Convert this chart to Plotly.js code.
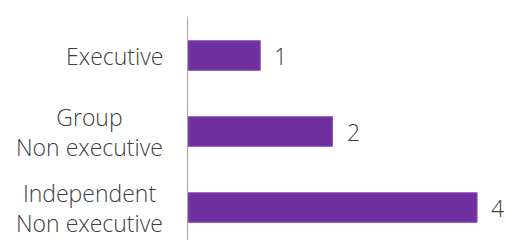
<!DOCTYPE html>
<html>
<head>
<meta charset="utf-8">
<script src="https://cdn.plot.ly/plotly-3.0.1.min.js"></script>
<style>html,body{margin:0;padding:0;background:#fff;}#chart{width:506px;height:240px;}</style>
</head>
<body>
<div id="chart"></div>
<script>
// Data (bottom to top, Plotly draws first category at the bottom)
const categories = ["Independent<br>Non executive", "Group<br>Non executive", "Executive"];
const values = [4, 2, 1];
const valueLabels = ["4", "2", "1"];

const FONT = "'Open Sans', Lato, sans-serif";
const TEXT = "#404040";
const SIZE = 23;

const trace = {
  type: "bar",
  orientation: "h",
  x: values,
  y: categories,
  marker: { color: "#7030A0", line: { color: "#8a55bb", width: 1 } },
  hoverinfo: "none"
};

// value labels to the right of each bar
const valueAnn = categories.map((c, i) => ({
  x: values[i], y: c, xref: "x", yref: "y",
  text: valueLabels[i], showarrow: false,
  xanchor: "left", xshift: 12,
  font: { family: FONT, size: SIZE, color: TEXT, weight: 300 }
}));

// category labels, centred line by line, left of the axis
const catAnn = categories.map((c) => ({
  x: 0, y: c, xref: "paper", yref: "y",
  text: c, showarrow: false, align: "center",
  xanchor: "right", xshift: -23,
  font: { family: FONT, size: SIZE, color: TEXT, weight: 300 }
}));

const layout = {
  width: 506, height: 240,
  margin: { l: 188, r: 0, t: 17, b: 0, pad: 0 },
  paper_bgcolor: "#ffffff", plot_bgcolor: "#ffffff",
  showlegend: false,
  bargap: 0.61,
  font: { family: FONT, size: SIZE, color: TEXT, weight: 300 },
  xaxis: { range: [0, 4.4], visible: false, showgrid: false, zeroline: false, fixedrange: true },
  yaxis: {
    type: "category",
    range: [-0.427, 2.507],
    showline: true, linecolor: "#a6a6a6", linewidth: 1,
    showgrid: false, zeroline: false, ticks: "",
    showticklabels: false,
    fixedrange: true
  },
  annotations: valueAnn.concat(catAnn)
};

Plotly.newPlot("chart", [trace], layout, { staticPlot: true, displayModeBar: false });
</script>
</body>
</html>
